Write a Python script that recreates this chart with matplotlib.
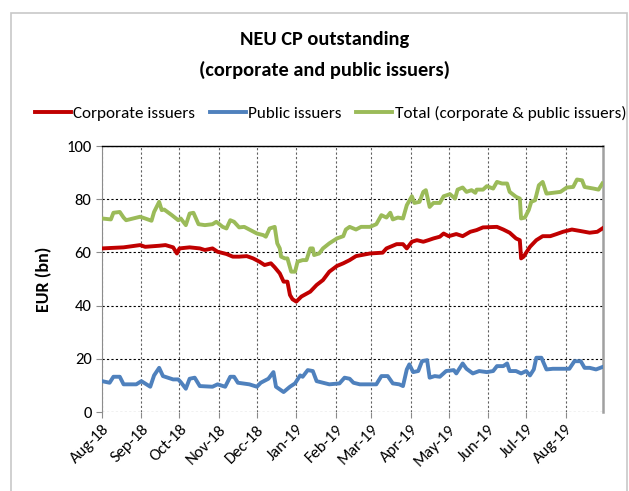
import matplotlib
matplotlib.use("Agg")
import matplotlib.pyplot as plt
import matplotlib.dates as mdates
from matplotlib.patches import Rectangle
from matplotlib import font_manager
import pandas as pd

# days counted from 1 Aug 2018, values in EUR bn
corp_day = [0, 17, 30, 34, 45, 50, 56, 59, 61, 69, 77, 81, 87, 91, 98, 103, 108, 114,
            119, 124, 128, 133, 136, 140, 143, 146, 148, 150, 153, 157, 164, 169, 174,
            179, 185, 190, 195, 200, 211, 221, 224, 232, 237, 240, 244, 248, 253, 257,
            261, 266, 269, 273, 279, 284, 290, 295, 300, 311, 316, 321, 326, 329, 330,
            332, 337, 342, 347, 353, 358, 363, 370, 376, 384, 390, 394]
corp_val = [61.5, 61.9, 62.75, 62.1, 62.5, 62.75, 61.9, 59.6, 61.5, 61.9, 61.5, 60.9,
            61.5, 60.25, 59.4, 58.4, 58.4, 58.6, 57.75, 56.5, 55.25, 55.9, 54.4, 52.1,
            49.0, 49.0, 44.0, 42.4, 41.5, 43.4, 45.25, 47.75, 49.6, 52.75, 54.9, 55.9,
            57.1, 58.6, 59.6, 59.9, 61.5, 63.1, 63.1, 61.5, 64.0, 64.6, 64.0, 64.6,
            65.25, 65.9, 67.1, 66.1, 66.9, 66.1, 67.75, 68.4, 69.4, 69.6, 68.6, 67.4,
            65.25, 64.6, 57.75, 58.4, 62.1, 64.6, 66.1, 66.1, 66.9, 67.75, 68.6, 68.1,
            67.4, 67.75, 69.0]

pub_day = [0, 6, 9, 14, 17, 27, 31, 38, 41, 45, 48, 56, 60, 62, 66, 69, 73, 77, 87, 91,
           97, 101, 104, 107, 116, 122, 125, 131, 135, 137, 143, 148, 152, 156, 158, 162,
           166, 169, 179, 187, 191, 195, 198, 203, 216, 220, 225, 229, 234, 237, 240,
           242, 245, 249, 252, 256, 258, 262, 266, 271, 277, 279, 284, 287, 292, 297,
           303, 308, 311, 316, 319, 321, 326, 330, 334, 337, 340, 342, 346, 350, 355,
           363, 368, 372, 377, 380, 384, 389, 394]
pub_val = [11.6, 11.0, 13.25, 13.25, 10.4, 10.4, 11.6, 9.5, 13.75, 16.6, 13.5, 12.25,
           12.25, 11.25, 8.75, 12.5, 12.9, 9.75, 9.5, 10.4, 9.5, 13.25, 13.25, 11.0,
           10.4, 9.5, 11.0, 12.5, 15.0, 9.5, 7.5, 9.5, 10.75, 13.75, 13.25, 15.75, 15.4,
           11.6, 10.4, 10.75, 12.9, 12.5, 11.0, 10.4, 10.4, 13.5, 13.5, 10.75, 10.4,
           9.75, 16.0, 17.9, 15.0, 15.4, 19.1, 19.5, 12.9, 13.5, 13.25, 15.4, 15.75,
           14.5, 18.25, 16.25, 14.5, 15.4, 15.0, 15.4, 17.25, 17.25, 18.25, 15.4, 15.4,
           14.5, 15.4, 13.75, 16.0, 20.4, 20.4, 16.0, 16.25, 16.25, 16.25, 19.1, 19.1,
           16.6, 16.6, 16.0, 16.9]

tot_day = [0, 7, 9, 14, 17, 19, 30, 34, 39, 41, 45, 47, 49, 55, 60, 62, 66, 69, 72, 76,
           81, 87, 90, 95, 98, 101, 104, 108, 112, 116, 122, 127, 129, 132, 136, 138, 140,
           141, 144, 146, 149, 152, 154, 158, 161, 164, 166, 167, 171, 174, 179, 185,
           190, 192, 195, 200, 204, 211, 216, 220, 224, 227, 229, 233, 237, 240, 244,
           246, 250, 253, 255, 258, 261, 266, 269, 274, 278, 280, 284, 287, 291, 294,
           295, 300, 303, 308, 311, 315, 319, 321, 326, 329, 330, 333, 336, 338, 341,
           344, 347, 350, 355, 361, 366, 371, 374, 378, 380, 387, 391, 394]
tot_val = [72.75, 72.4, 74.9, 75.2, 73.1, 72.1, 73.4, 72.75, 71.9, 75.2, 79.0, 75.9,
           76.1, 74.0, 72.1, 72.75, 70.25, 74.6, 74.9, 70.6, 70.25, 70.6, 71.5, 69.6,
           69.0, 72.1, 71.5, 69.4, 69.6, 68.6, 67.1, 66.5, 65.9, 69.0, 69.6, 63.4, 61.5,
           58.4, 57.75, 57.75, 52.75, 52.75, 56.5, 57.1, 57.1, 61.5, 61.5, 59.0, 59.6,
           61.5, 63.4, 65.25, 66.1, 68.6, 69.6, 68.6, 69.6, 69.6, 70.6, 74.0, 73.1,
           74.9, 72.4, 73.1, 72.75, 77.75, 81.1, 78.6, 79.0, 82.75, 83.4, 77.1, 78.6,
           78.6, 81.1, 81.9, 80.25, 83.6, 84.4, 82.75, 83.4, 82.4, 83.6, 83.6, 84.9,
           84.0, 86.5, 85.9, 85.9, 82.75, 80.9, 80.25, 72.75, 73.1, 75.9, 79.0, 79.6,
           85.25, 86.5, 82.1, 82.4, 82.75, 84.4, 84.6, 87.4, 87.1, 84.6, 84.0, 83.6, 85.9]

start = pd.Timestamp("2018-08-01")
yticks = [0, 20, 40, 60, 80, 100]

def to_dates(days):
    return start + pd.to_timedelta(days, unit="D")

# narrow font like Calibri, if we have one
names = set(f.name for f in font_manager.fontManager.ttflist)
fam = [n for n in ['Carlito', 'Liberation Sans Narrow', 'Lato'] if n in names]
plt.rcParams['font.family'] = fam + ['DejaVu Sans']

fig = plt.figure(figsize=(6.29, 4.91), dpi=100)
fig.patches.append(Rectangle((11 / 629, -0.01), 616 / 629, 478 / 491 + 0.01,
                             transform=fig.transFigure, fill=False,
                             edgecolor='#c8c8c8', linewidth=1.2))

ax = fig.add_axes([102 / 629, 1 - 412 / 491, 501 / 629, 266 / 491])

lw = 2.8
ax.plot(to_dates(corp_day), corp_val, color='#C00000', lw=lw,
        solid_joinstyle='round', label='Corporate issuers', zorder=3)
ax.plot(to_dates(pub_day), pub_val, color='#4F81BD', lw=lw,
        solid_joinstyle='round', label='Public issuers', zorder=3)
ax.plot(to_dates(tot_day), tot_val, color='#9BBB59', lw=lw,
        solid_joinstyle='round', label='Total (corporate & public issuers)', zorder=3)

ax.set_ylim(0, 100)
ax.set_yticks(yticks)
ax.set_xlim(start, start + pd.Timedelta(days=394.5))
ax.xaxis.set_major_locator(mdates.MonthLocator())
ax.xaxis.set_major_formatter(mdates.DateFormatter('%b-%y'))

ax.yaxis.grid(True, color='black', linestyle=(0, (2, 2)), linewidth=0.8)
ax.xaxis.grid(True, color='#606060', linestyle=(0, (2, 2)), linewidth=0.8)
ax.set_axisbelow(True)

ax.spines['top'].set_color('black')
ax.spines['top'].set_linewidth(1.0)
ax.spines['bottom'].set_visible(False)
ax.spines['left'].set_color('#8c8c8c')
ax.spines['right'].set_color('#a0a0a0')
ax.spines['right'].set_linewidth(1.8)

ax.tick_params(axis='both', colors='#8c8c8c', labelcolor='black', labelsize=12,
               length=4, width=0.8)
for lab in ax.get_xticklabels():
    lab.set_rotation(45)
    lab.set_ha('right')
    lab.set_rotation_mode('anchor')

ax.set_ylabel('EUR (bn)', fontsize=13, fontweight='bold', labelpad=10)

fig.text(0.5 + 10 / 629, 1 - 40 / 491, 'NEU CP outstanding', ha='center', va='center',
         fontsize=14.7, fontweight='bold')
fig.text(0.5 + 10 / 629, 1 - 70 / 491, '(corporate and public issuers)', ha='center',
         va='center', fontsize=14.7, fontweight='bold')

fig.legend(loc='center', bbox_to_anchor=(330.5 / 629, 1 - 113 / 491), ncol=3,
           frameon=False, fontsize=12.3, handlelength=2.1, handletextpad=0.15,
           columnspacing=0.85, borderpad=0.2)

fig.savefig('out.png', dpi=100)
